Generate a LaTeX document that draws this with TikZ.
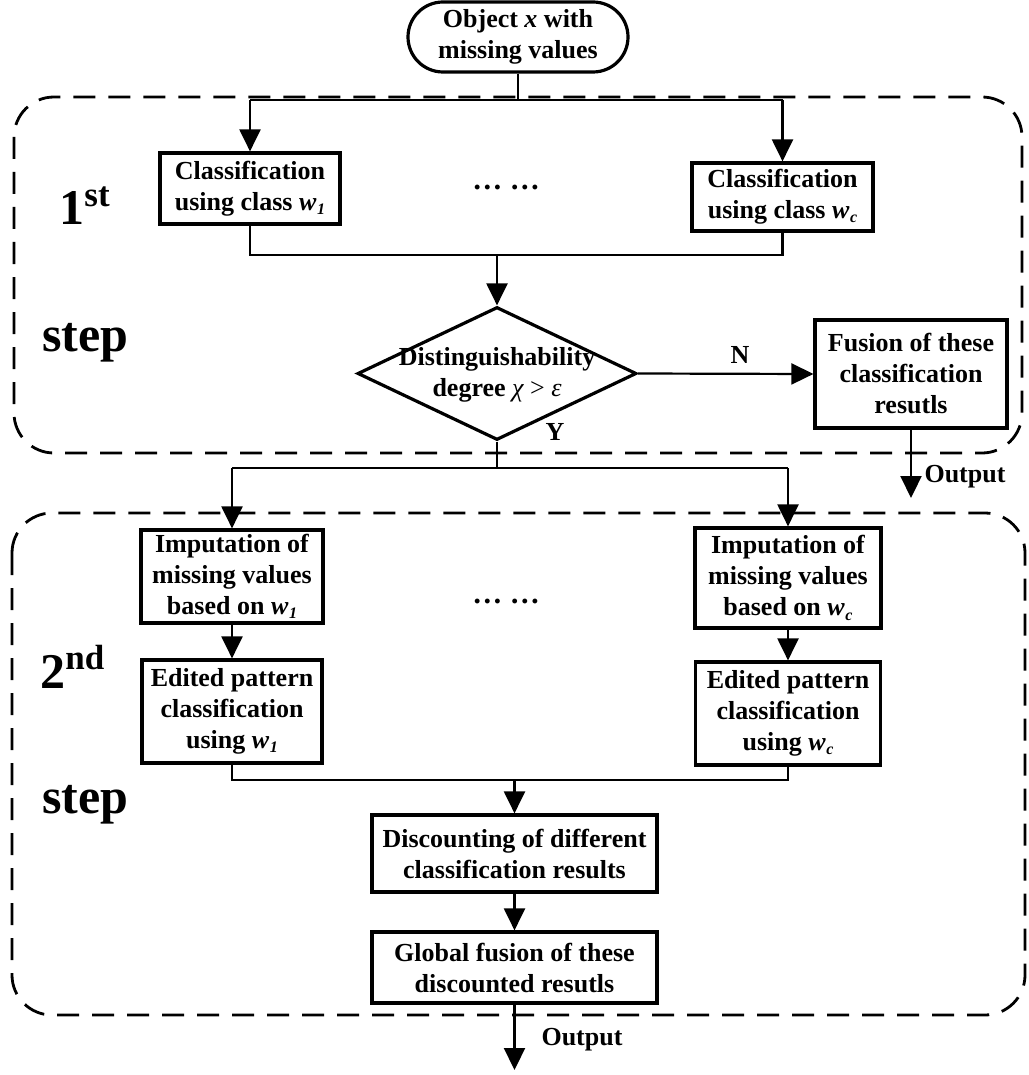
\documentclass[tikz,border=0pt]{standalone}
\usepackage{fontspec}
\setmainfont{Liberation Serif}
\usetikzlibrary{arrows.meta,shapes.geometric}
\newcommand\wsub[1]{\textit{w}\kern0.3pt\raisebox{-0.35ex}{\fontsize{8}{8}\selectfont\itshape #1}}
\tikzset{
  box/.style={draw, line width=1.6pt, align=center, inner sep=0pt,
    font=\fontsize{13}{15.5}\selectfont\bfseries},
  conn/.style={line width=1.1pt},
  arr/.style={conn, -{Triangle[length=11pt,width=10.5pt]}},
  dashbox/.style={line width=1.4pt, dash pattern=on 11pt off 6.5pt, rounded corners=20pt},
  lbl/.style={font=\fontsize{13}{15.5}\selectfont\bfseries, inner sep=0pt, align=center},
  big/.style={font=\fontsize{25}{30}\selectfont\bfseries, inner sep=0pt, anchor=base west}
}
\begin{document}
\begin{tikzpicture}[x=0.5pt,y=-0.5pt]
\useasboundingbox (0,0) rectangle (1028,1075);
% dashed step frames
\draw[dashbox] (14,97) rectangle (1022,453);
\draw[dashbox] (12,513) rectangle (1025,1015);
% step labels
\node[big] (s1a) at (59,225) {1\textsuperscript{st}};
\node[big] (s1b) at (42,351) {step};
\node[big] (s2a) at (40,688) {2\textsuperscript{nd}};
\node[big] (s2b) at (42,813) {step};
% nodes
\node[box, rounded corners=17.5pt, minimum width=110pt, minimum height=35pt] (obj) at (518,37) {Object \textit{x} with\\missing values};
\node[box, minimum width=90pt, minimum height=35.5pt] (c1) at (250,188.5) {Classification\\using class \wsub{1}};
\node[box, minimum width=90.5pt, minimum height=34pt] (cc) at (782.5,197) {Classification\\using class \wsub{c}};
\node[lbl, font=\fontsize{15}{18}\selectfont\bfseries] (d1) at (506,187) {\ldots\ \ldots};
\node[draw, diamond, line width=1.6pt, minimum width=139.5pt, minimum height=66.5pt, inner sep=0pt] (dia) at (497,373.5) {};
\node[lbl] (diat) at (497,375) {Distinguishability\\degree {\mdseries\itshape χ} {\mdseries >} {\mdseries\itshape ε}};
\node[box, minimum width=96pt, minimum height=54pt] (fus) at (911,374) {Fusion of these\\classification\\resutls};
\coordinate (out1) at (911,498);
\node[lbl] (o1) at (965,477) {Output};
\node[lbl] (nl) at (740,355) {N};
\node[lbl] (yl) at (555,432) {Y};
\node[box, minimum width=91pt, minimum height=46.5pt] (imp1) at (232,576.5) {Imputation of\\missing values\\based on \wsub{1}};
\node[box, minimum width=93pt, minimum height=50pt] (impc) at (788,578) {Imputation of\\missing values\\based on \wsub{c}};
\node[box, minimum width=90pt, minimum height=51.5pt] (ed1) at (232,711.5) {Edited pattern\\classification\\using \wsub{1}};
\node[box, minimum width=92.5pt, minimum height=51.5pt] (edc) at (788,713.5) {Edited pattern\\classification\\using \wsub{c}};
\node[lbl, font=\fontsize{15}{18}\selectfont\bfseries] (d2) at (506,601) {\ldots\ \ldots};
\node[box, minimum width=142.5pt, minimum height=38.5pt] (disc) at (514.5,853.5) {Discounting of different\\classification results};
\node[box, minimum width=142.5pt, minimum height=35.5pt] (glob) at (514.5,967.5) {Global fusion of these\\discounted resutls};
\coordinate (out2) at (514.5,1070);
\node[lbl] (o2) at (582,1040) {Output};
% connectors
\coordinate (b1) at (518,100);
\coordinate (b1l) at (250,100);
\coordinate (b1r) at (782.5,100);
\draw[conn] (obj.south) -- (b1);
\draw[conn] (b1l) -- (b1r);
\draw[arr] (b1l) -- (c1.north);
\draw[arr] (b1r) -- (cc.north);
\coordinate (b2l) at (250,255);
\coordinate (b2r) at (782.5,255);
\coordinate (b2m) at (497,255);
\draw[conn] (c1.south) -- (b2l) -- (b2r) -- (cc.south);
\draw[arr] (b2m) -- (dia.north);
\draw[arr] (dia.east) -- (fus.west);
\draw[arr] (fus.south) -- (out1);
\coordinate (b3m) at (497,468);
\coordinate (b3l) at (232,468);
\coordinate (b3r) at (788,468);
\draw[conn] (dia.south) -- (b3m);
\draw[conn] (b3l) -- (b3r);
\draw[arr] (b3l) -- (imp1.north);
\draw[arr] (b3r) -- (impc.north);
\draw[arr] (imp1.south) -- (ed1.north);
\draw[arr] (impc.south) -- (edc.north);
\coordinate (b4l) at (232,780);
\coordinate (b4r) at (788,780);
\coordinate (b4m) at (514.5,780);
\draw[conn] (ed1.south) -- (b4l) -- (b4r) -- (edc.south);
\draw[arr] (b4m) -- (disc.north);
\draw[arr] (disc.south) -- (glob.north);
\draw[arr] (glob.south) -- (out2);
\end{tikzpicture}
\end{document}
